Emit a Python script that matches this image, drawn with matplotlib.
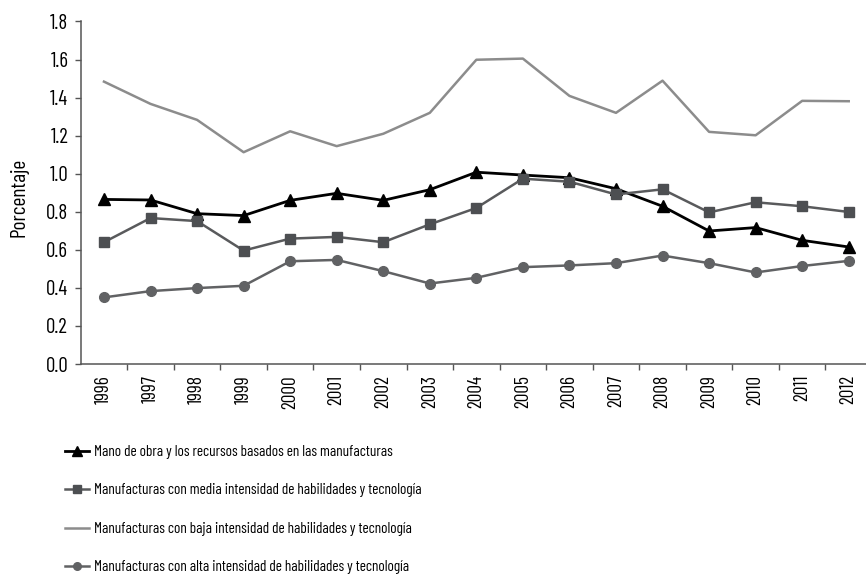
import matplotlib
matplotlib.use("Agg")
import matplotlib.pyplot as plt
from matplotlib.lines import Line2D

years = ["1996", "1997", "1998", "1999", "2000", "2001", "2002", "2003", "2004",
         "2005", "2006", "2007", "2008", "2009", "2010", "2011", "2012"]

mano_obra = [0.865, 0.862, 0.790, 0.780, 0.860, 0.897, 0.860, 0.916, 1.008,
             0.993, 0.979, 0.921, 0.829, 0.699, 0.717, 0.650, 0.615]
media = [0.640, 0.767, 0.751, 0.596, 0.659, 0.668, 0.640, 0.734, 0.820,
         0.974, 0.958, 0.891, 0.918, 0.797, 0.850, 0.829, 0.799]
baja = [1.484, 1.367, 1.283, 1.113, 1.223, 1.145, 1.210, 1.320, 1.599,
        1.605, 1.409, 1.320, 1.489, 1.220, 1.202, 1.383, 1.381]
alta = [0.350, 0.383, 0.399, 0.411, 0.540, 0.547, 0.488, 0.423, 0.453,
        0.509, 0.518, 0.530, 0.570, 0.530, 0.481, 0.515, 0.542]

labels = [
    "Mano de obra y los recursos basados en las manufacturas",
    "Manufacturas con media intensidad de habilidades y tecnología",
    "Manufacturas con baja intensidad de habilidades y tecnología",
    "Manufacturas con alta intensidad de habilidades y tecnología",
]
y_ticks = [0.0, 0.2, 0.4, 0.6, 0.8, 1.0, 1.2, 1.4, 1.6, 1.8]

plt.rcParams["font.family"] = ["Barlow Condensed", "DejaVu Sans"]
plt.rcParams["font.weight"] = 400

W, H = 866, 580
fig = plt.figure(figsize=(W / 100, H / 100), dpi=100)
left, right, bottom, top = 80.7, 872, 364, 21.5
ax = fig.add_axes([left / W, 1 - bottom / H, (right - left) / W, (bottom - top) / H])

x = list(range(len(years)))
c_tri = "#000000"
c_sq = "#4d4f52"
c_sql = "#595a5c"
c_baja = "#8c8c8c"
c_alta = "#616264"

ax.plot(x, mano_obra, color=c_tri, lw=2.0, marker="^", ms=8, mfc=c_tri, mec=c_tri, zorder=3)
ax.plot(x, media, color=c_sql, lw=1.8, marker="s", ms=7.5, mfc=c_sq, mec=c_sq, zorder=4)
ax.plot(x, baja, color=c_baja, lw=1.8, zorder=2)
ax.plot(x, alta, color=c_alta, lw=1.8, marker="o", ms=7, mfc=c_alta, mec=c_alta, zorder=3)

ax.set_xlim(-0.5, len(years) - 0.5)
ax.set_ylim(0, 1.8)
ax.set_yticks(y_ticks)
ax.set_yticklabels([f"{v:.1f}" for v in y_ticks])
ax.set_xticks(x)
ax.set_xticklabels(years, rotation=90)
ax.set_xticks([i - 0.5 for i in range(1, len(years) + 1)], minor=True)
ax.tick_params(axis="x", which="major", length=0, pad=8, labelsize=14)
ax.tick_params(axis="x", which="minor", length=4, width=1, color="#555555", direction="out")
ax.tick_params(axis="y", length=4, width=1, color="#555555", pad=5, labelsize=15)

for s in ["top", "right"]:
    ax.spines[s].set_visible(False)
for s in ["left", "bottom"]:
    ax.spines[s].set_color("#555555")
    ax.spines[s].set_linewidth(1.1)

fig.text(19 / W, 1 - 197 / H, "Porcentaje", rotation=90, ha="center", va="center", fontsize=15.5)

handles = [
    Line2D([], [], color=c_tri, lw=2.0, marker="^", ms=6.5, mfc=c_tri, mec=c_tri),
    Line2D([], [], color=c_sql, lw=1.8, marker="s", ms=6, mfc=c_sq, mec=c_sq),
    Line2D([], [], color=c_baja, lw=1.8),
    Line2D([], [], color=c_alta, lw=1.8, marker="o", ms=5.5, mfc=c_alta, mec=c_alta),
]
fig.legend(handles, labels, loc="upper left", bbox_to_anchor=(65 / W, 1 - 445 / H),
           frameon=False, fontsize=11, borderpad=0, borderaxespad=0,
           handlelength=1.6, handletextpad=0.3, labelspacing=1.6)

fig.savefig("out.png", dpi=100)
